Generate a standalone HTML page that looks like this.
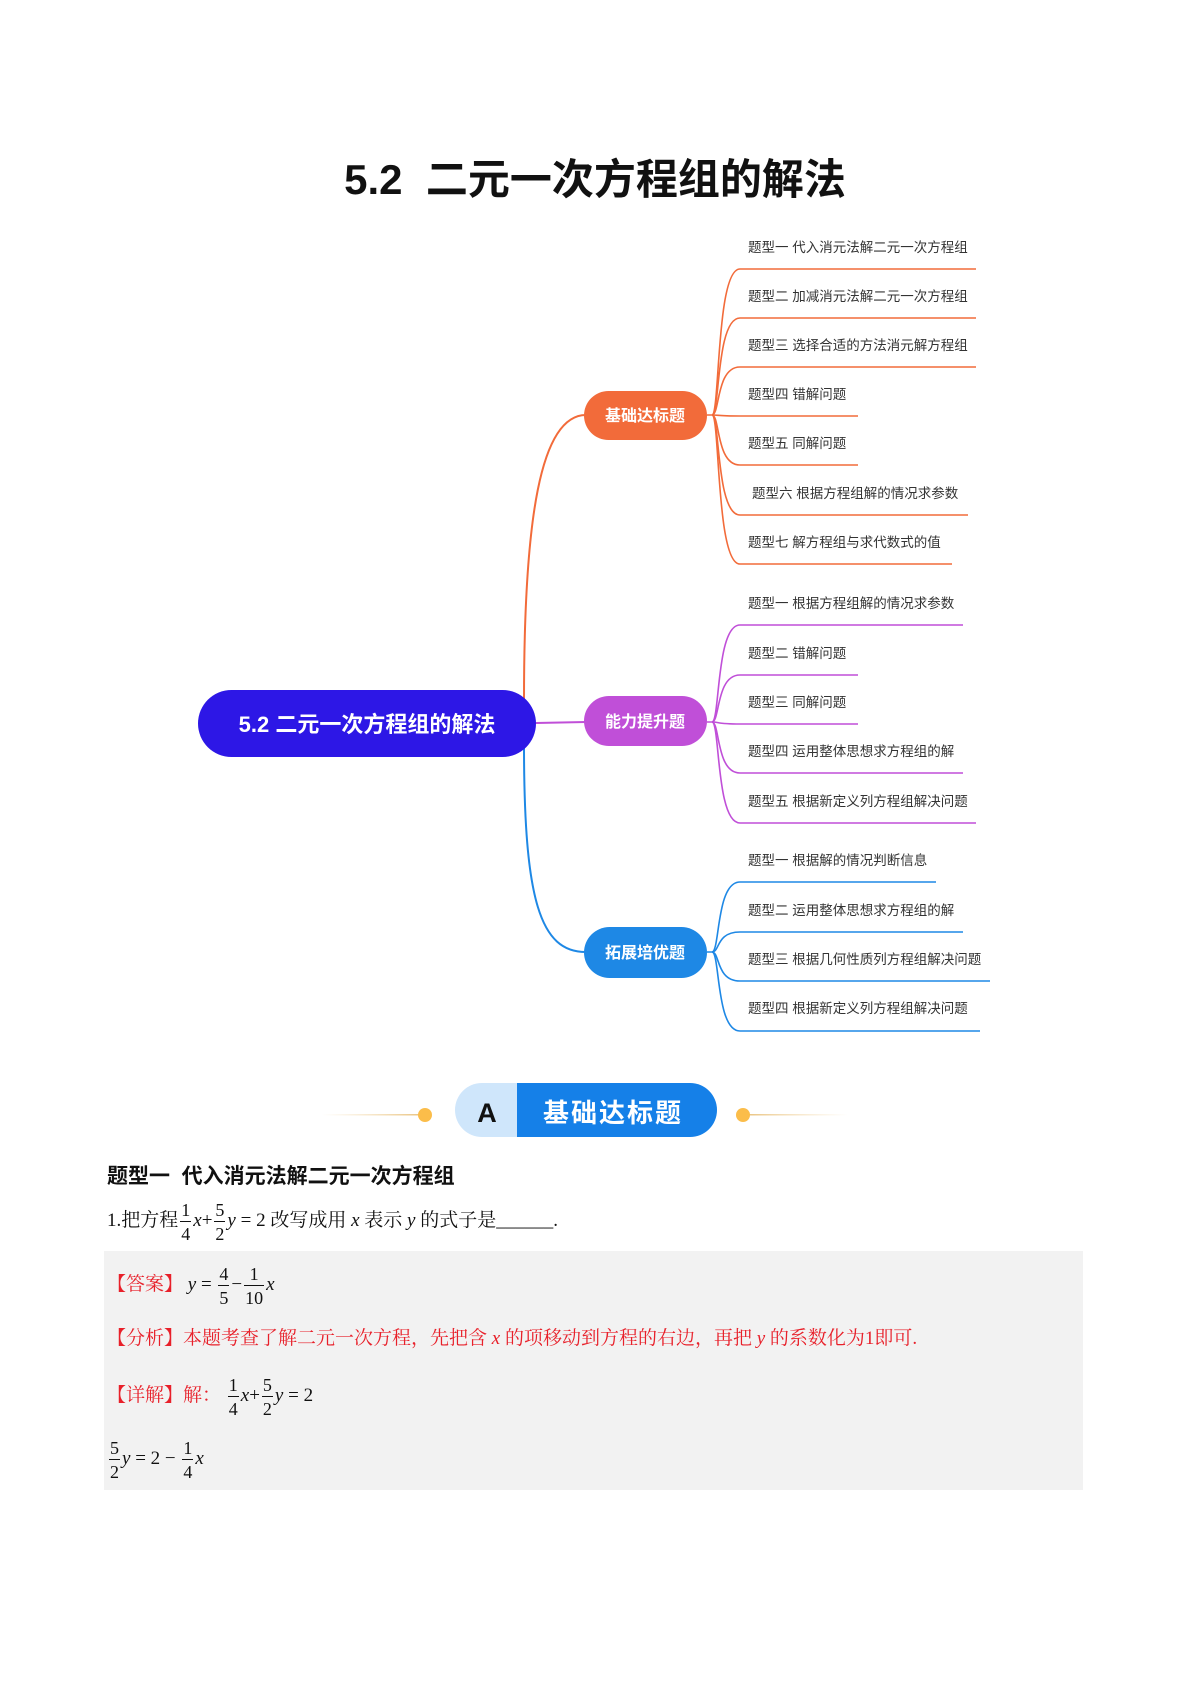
<!DOCTYPE html>
<html><head><meta charset="utf-8">
<style>
html,body{margin:0;padding:0;background:#fff;}
body{width:1190px;height:1682px;position:relative;overflow:hidden;font-family:"Liberation Serif","Noto Serif CJK SC",serif;}
.abs{position:absolute;}
.title{left:0;width:1190px;top:146px;text-align:center;font-family:"Liberation Sans","Noto Sans CJK SC",sans-serif;font-weight:bold;font-size:42px;color:#111;}
.fr{display:inline-block;vertical-align:middle;text-align:center;line-height:1;font-size:18px;margin:0 2px;}
.fr span{display:block;padding:0 1px;}
.fr .n{border-bottom:1px solid currentColor;padding-bottom:2px;}
.fr .d{padding-top:3px;}
i{font-family:"Liberation Serif",serif;}
.red{color:#e8202a;}
</style></head><body>
<div class="abs title">5.2&nbsp; 二元一次方程组的解法</div>

<svg class="abs" style="left:0;top:0" width="1190" height="1060" viewBox="0 0 1190 1060">
<g fill="none" stroke-width="2">
<path d="M524,700 C524,520 540,415 586,415" stroke="#f26b3a"/>
<path d="M524,745 C524,900 540,952 586,952" stroke="#1e88e5"/>
<path d="M536,723 L586,722" stroke="#c04fd8"/>
</g>
<rect x="198" y="690" width="338" height="67" rx="33.5" fill="#2d17e6"/>
<text x="367" y="732" text-anchor="middle" font-family="Liberation Sans, Noto Sans CJK SC, sans-serif" font-weight="bold" font-size="22" fill="#fff">5.2 二元一次方程组的解法</text>
<rect x="584" y="391" width="123" height="49" rx="24.5" fill="#f26b3a"/>
<text x="645" y="421" text-anchor="middle" font-family="Liberation Sans, Noto Sans CJK SC, sans-serif" font-weight="bold" font-size="16" fill="#fff">基础达标题</text>
<rect x="584" y="696" width="123" height="50" rx="25" fill="#c04fd8"/>
<text x="645" y="727" text-anchor="middle" font-family="Liberation Sans, Noto Sans CJK SC, sans-serif" font-weight="bold" font-size="16" fill="#fff">能力提升题</text>
<rect x="584" y="927" width="123" height="51" rx="25.5" fill="#1e88e5"/>
<text x="645" y="958" text-anchor="middle" font-family="Liberation Sans, Noto Sans CJK SC, sans-serif" font-weight="bold" font-size="16" fill="#fff">拓展培优题</text>

<g fill="none" stroke="#f26b3a" stroke-width="1.6">
<path d="M707,415 L712,415 C720,415 716,269 740,269 L976,269"/>
<path d="M712,415 C720,415 716,318 740,318 L976,318"/>
<path d="M712,415 C720,415 716,367 740,367 L976,367"/>
<path d="M712,415 C720,415 716,416 740,416 L858,416"/>
<path d="M712,415 C720,415 716,465 740,465 L858,465"/>
<path d="M712,415 C720,415 716,515 740,515 L968,515"/>
<path d="M712,415 C720,415 716,564 740,564 L952,564"/>
</g>
<g fill="none" stroke="#c04fd8" stroke-width="1.6">
<path d="M707,722 L712,722 C720,722 716,625 740,625 L963,625"/>
<path d="M712,722 C720,722 716,675 740,675 L858,675"/>
<path d="M712,722 C720,722 716,724 740,724 L858,724"/>
<path d="M712,722 C720,722 716,773 740,773 L963,773"/>
<path d="M712,722 C720,722 716,823 740,823 L976,823"/>
</g>
<g fill="none" stroke="#1e88e5" stroke-width="1.6">
<path d="M707,952 L712,952 C720,952 716,882 740,882 L936,882"/>
<path d="M712,952 C720,952 716,932 740,932 L963,932"/>
<path d="M712,952 C720,952 716,981 740,981 L990,981"/>
<path d="M712,952 C720,952 716,1031 740,1031 L980,1031"/>
</g>
<g font-family="Liberation Sans, Noto Sans CJK SC, sans-serif" font-size="13.5" fill="#333">
<text x="748" y="252">题型一 代入消元法解二元一次方程组</text>
<text x="748" y="301">题型二 加减消元法解二元一次方程组</text>
<text x="748" y="350">题型三 选择合适的方法消元解方程组</text>
<text x="748" y="399">题型四 错解问题</text>
<text x="748" y="448">题型五 同解问题</text>
<text x="752" y="498">题型六 根据方程组解的情况求参数</text>
<text x="748" y="547">题型七 解方程组与求代数式的值</text>
<text x="748" y="608">题型一 根据方程组解的情况求参数</text>
<text x="748" y="658">题型二 错解问题</text>
<text x="748" y="707">题型三 同解问题</text>
<text x="748" y="756">题型四 运用整体思想求方程组的解</text>
<text x="748" y="806">题型五 根据新定义列方程组解决问题</text>
<text x="748" y="865">题型一 根据解的情况判断信息</text>
<text x="748" y="915">题型二 运用整体思想求方程组的解</text>
<text x="748" y="964">题型三 根据几何性质列方程组解决问题</text>
<text x="748" y="1013">题型四 根据新定义列方程组解决问题</text>
</g>
</svg>

<svg class="abs" style="left:0;top:1060px" width="1190" height="100" viewBox="0 1060 1190 100">
<defs>
<linearGradient id="gl" x1="0" x2="1"><stop offset="0" stop-color="#f4d9a8" stop-opacity="0"/><stop offset="1" stop-color="#e8c07a"/></linearGradient>
<linearGradient id="gr" x1="0" x2="1"><stop offset="0" stop-color="#e8c07a"/><stop offset="1" stop-color="#f4d9a8" stop-opacity="0"/></linearGradient>
</defs>
<rect x="322" y="1114" width="103" height="1.5" fill="url(#gl)"/>
<rect x="743" y="1114" width="105" height="1.5" fill="url(#gr)"/>
<circle cx="425" cy="1115" r="7" fill="#fbbd4a"/>
<circle cx="743" cy="1115" r="7" fill="#fbbd4a"/>
<path d="M517,1083 L690,1083 A27,27 0 0 1 690,1137 L517,1137 Z" fill="#1580e8"/>
<path d="M517,1083 L482,1083 A27,27 0 0 0 482,1137 L517,1137 Z" fill="#cfe6fb"/>
<text x="487" y="1122" text-anchor="middle" font-family="Liberation Sans, sans-serif" font-weight="bold" font-size="27" fill="#111">A</text>
<text x="613" y="1122" text-anchor="middle" font-family="Liberation Sans, Noto Sans CJK SC, sans-serif" font-weight="bold" font-size="26" fill="#fff" letter-spacing="2">基础达标题</text>
</svg>

<div class="abs" style="left:107px;top:1160px;font-family:'Liberation Sans','Noto Sans CJK SC',sans-serif;font-weight:bold;font-size:21px;color:#111;">题型一&nbsp; 代入消元法解二元一次方程组</div>

<div class="abs" style="left:107px;top:1196px;font-size:19px;color:#111;white-space:nowrap;line-height:50px;">1.把方程<span class="fr"><span class="n">1</span><span class="d">4</span></span><i>x</i>+<span class="fr"><span class="n">5</span><span class="d">2</span></span><i>y</i> = 2 改写成用 <i>x</i> 表示 <i>y</i> 的式子是______.</div>

<div class="abs" style="left:104px;top:1251px;width:979px;height:239px;background:#f2f2f2;"></div>

<div class="abs" style="left:107px;top:1260px;font-size:19px;color:#111;white-space:nowrap;line-height:50px;"><span class="red">【答案】</span> <i>y</i> = <span class="fr"><span class="n">4</span><span class="d">5</span></span>−<span class="fr"><span class="n">1</span><span class="d">10</span></span><i>x</i></div>

<div class="abs red" style="left:107px;top:1324px;font-size:19px;white-space:nowrap;line-height:30px;">【分析】本题考查了解二元一次方程，先把含 <i>x</i> 的项移动到方程的右边，再把 <i>y</i> 的系数化为1即可.</div>

<div class="abs" style="left:107px;top:1371px;font-size:19px;color:#111;white-space:nowrap;line-height:50px;"><span class="red">【详解】解：</span> <span class="fr"><span class="n">1</span><span class="d">4</span></span><i>x</i>+<span class="fr"><span class="n">5</span><span class="d">2</span></span><i>y</i> = 2</div>

<div class="abs" style="left:107px;top:1434px;font-size:19px;color:#111;white-space:nowrap;line-height:50px;"><span class="fr"><span class="n">5</span><span class="d">2</span></span><i>y</i> = 2 − <span class="fr"><span class="n">1</span><span class="d">4</span></span><i>x</i></div>
</body></html>
